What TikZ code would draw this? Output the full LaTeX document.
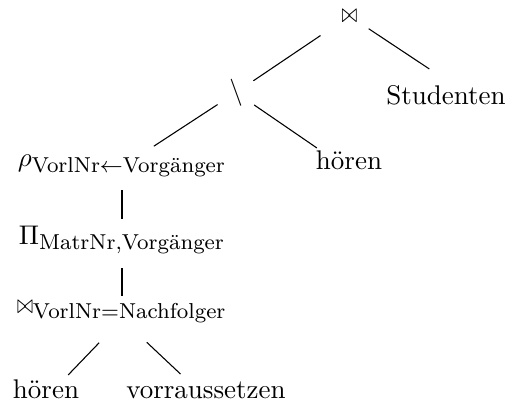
\documentclass[tikz,border=0pt]{standalone}
\usepackage{amsmath}
\usepackage{graphicx}
\newdimen\pxu \pxu=0.3704pt
\newcommand{\myjoin}{\scalebox{0.7}[1]{$\bowtie$}}
\newcommand{\mysub}[1]{\mbox{\fontsize{8}{9.6}\selectfont #1}}
\tikzset{
  lbl/.style={anchor=base, inner sep=0pt},
  edge/.style={draw=black, line width=0.4pt}
}
\begin{document}
\begin{tikzpicture}[x=\pxu,y=-\pxu]
\useasboundingbox (0,0) rectangle (530,407);
\node[inner sep=0pt] (j1) at (349.5,16) {\myjoin};
\node[inner sep=0pt] (diff) at (236,92.5) {$\backslash$};
\node[lbl, inner sep=2pt] (stud) at (446,105) {Studenten};
\node[lbl] (rho) at (122,167) {$\rho_{\mysub{VorlNr$\leftarrow$Vorgänger}}$};
\node[lbl] (hoeren1) at (349,170) {hören};
\node[lbl] (pi) at (122,244) {$\Pi_{\mysub{MatrNr,Vorgänger}}$};
\node[lbl] (j2) at (122,313) {$\myjoin_{\mysub{VorlNr=Nachfolger}}$};
\node[lbl] (hoeren2) at (46,398) {hören};
\node[lbl] (vorr) at (206,398) {vorraussetzen};

\draw[edge, shorten <=35\pxu, shorten >=21\pxu] (j1.center) -- (diff.center);
\draw[edge, shorten <=23\pxu, shorten >=20\pxu] (j1.center) -- (stud.north);
\draw[edge, shorten <=22\pxu, shorten >=38\pxu] (diff.center) -- (rho.base);
\draw[edge, shorten <=22\pxu, shorten >=39\pxu] (diff.center) -- (hoeren1.base);
\draw[edge, shorten <=23\pxu, shorten >=25\pxu] (rho.base) -- (pi.base);
\draw[edge, shorten <=24\pxu, shorten >=25\pxu] (pi.base) -- ([yshift=-8\pxu]j2.base);
\draw[edge, shorten <=33\pxu, shorten >=32\pxu] ([yshift=-6\pxu]j2.base) -- (hoeren2.base);
\draw[edge, shorten <=34\pxu, shorten >=35\pxu] ([yshift=-6\pxu]j2.base) -- (vorr.base);
\end{tikzpicture}
\end{document}
